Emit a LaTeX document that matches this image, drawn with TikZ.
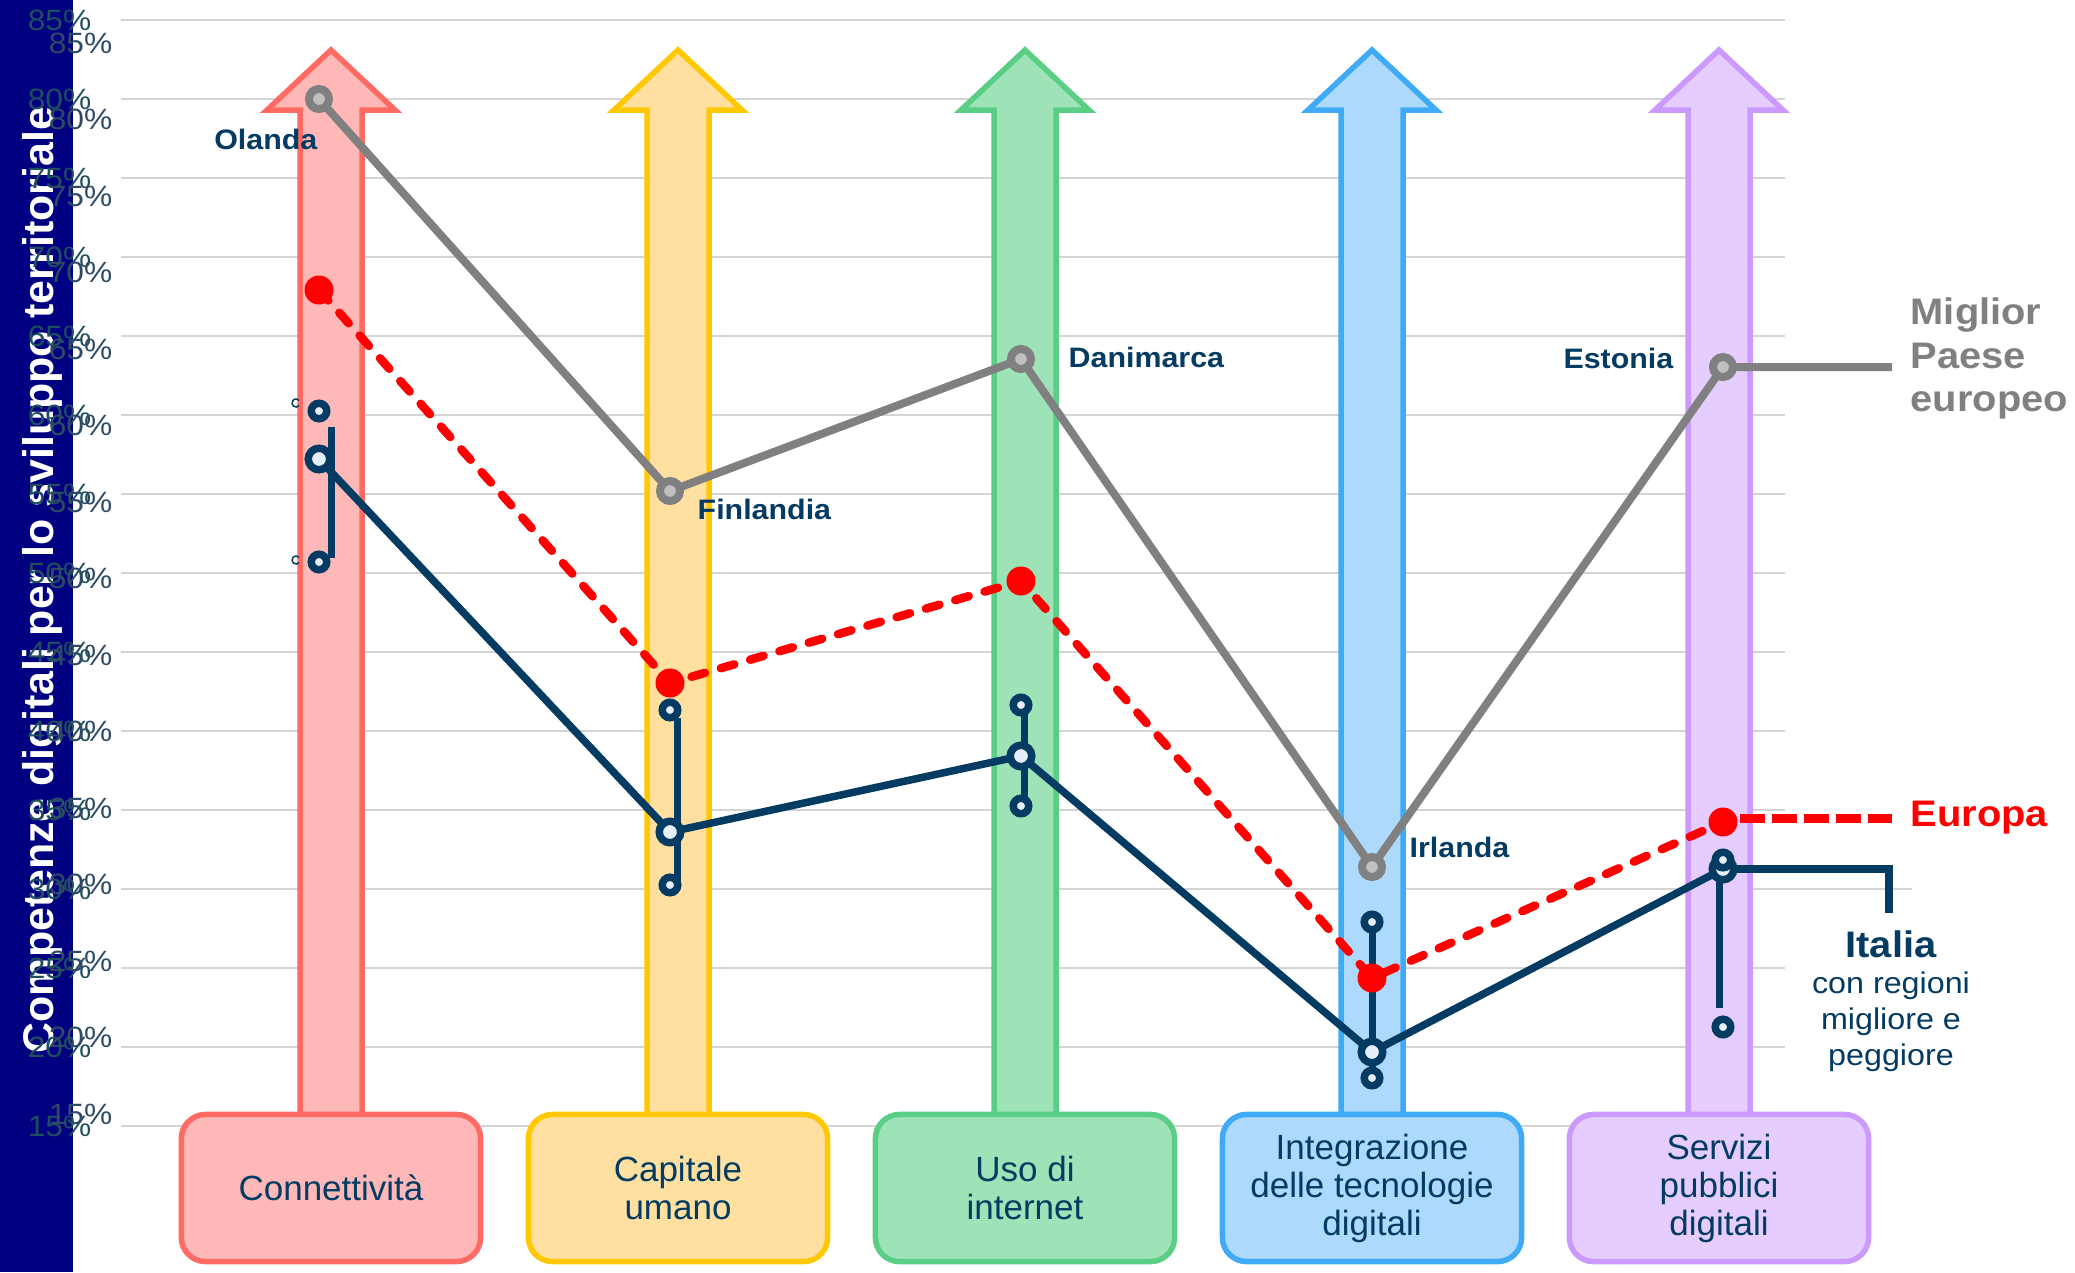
\documentclass[tikz,border=0pt]{standalone}
\usepackage{fontspec}
\setmainfont{Liberation Sans}
\newfontfamily\largo[FakeStretch=1.08]{Liberation Sans}
\usetikzlibrary{positioning}

\definecolor{fascia}{HTML}{000080}
\definecolor{blu}{HTML}{043B62}
\definecolor{grigliac}{HTML}{D4D4D4}
\definecolor{grigio}{HTML}{808080}
\definecolor{grigiochiaro}{HTML}{C0C0C0}
\definecolor{tickA}{HTML}{1D4F5E}
\definecolor{tickB}{HTML}{2E4A66}
\definecolor{chiaro}{HTML}{E6EEF8}
\definecolor{rossoB}{HTML}{FF6A63}\definecolor{rossoF}{HTML}{FFB8B8}
\definecolor{gialloB}{HTML}{FFC800}\definecolor{gialloF}{HTML}{FFE0A0}
\definecolor{verdeB}{HTML}{5BCE85}\definecolor{verdeF}{HTML}{9EE2B8}
\definecolor{azzurroB}{HTML}{3FAAF6}\definecolor{azzurroF}{HTML}{ADD9FD}
\definecolor{violaB}{HTML}{CC99FF}\definecolor{violaF}{HTML}{E6CDFF}

\tikzset{
  tacca/.style={anchor=east, inner sep=0pt, font=\largo\fontsize{8.35}{9}\selectfont},
  paese/.style={inner sep=0pt, text=blu, font=\largo\fontsize{8}{9}\selectfont\bfseries},
  legenda/.style={inner sep=0pt, font=\largo\fontsize{10.5}{12.4}\selectfont\bfseries},
  pilastro/.style={draw, line width=0.055cm, rounded corners=0.24cm, minimum width=2.99cm,
    minimum height=1.47cm, inner sep=0pt, align=center, text=blu, font=\fontsize{9.95}{10.8}\selectfont},
  freccia/.style={line width=0.055cm, line join=miter},
  linea/.style={line width=0.075cm, line join=round},
  regione/.style={blu, line width=0.075cm, fill=chiaro},
  barra/.style={blu, line width=0.07cm}
}

\begin{document}
\begin{tikzpicture}[x=0.01cm, y=-0.01cm]
\useasboundingbox (0,0) rectangle (2075,1272);
\fill[fascia] (0,0) rectangle (73,1272);
\node[rotate=90, anchor=base, inner sep=0pt, text=white, font=\fontsize{12.2}{13}\selectfont\bfseries] (titolo) at (53,580) {Competenze digitali per lo sviluppo territoriale};
\foreach \k in {0,...,14}{
  \pgfmathtruncatemacro\v{85-5*\k}
  \draw[grigliac, line width=0.015cm] (121,{20+79*\k}) -- (1785,{20+79*\k});
  \node[tacca, text=tickA] (tA\k) at (92,{20+79*\k}) {\v\%};
  \node[tacca, text=tickB] (tB\k) at (113,{43+76.5*\k}) {\v\%};
}
\draw[grigliac, line width=0.015cm] (1785,889) -- (1912,889);

\draw[freccia, draw=rossoB, fill=rossoF] (331,1114) ++(-31,0) -- ++(0,-1004) -- ++(-33,0) -- ++(64,-60) -- ++(64,60) -- ++(-33,0) -- ++(0,1004);
\draw[freccia, draw=gialloB, fill=gialloF] (678,1114) ++(-31,0) -- ++(0,-1004) -- ++(-33,0) -- ++(64,-60) -- ++(64,60) -- ++(-33,0) -- ++(0,1004);
\draw[freccia, draw=verdeB, fill=verdeF] (1025,1114) ++(-31,0) -- ++(0,-1004) -- ++(-33,0) -- ++(64,-60) -- ++(64,60) -- ++(-33,0) -- ++(0,1004);
\draw[freccia, draw=azzurroB, fill=azzurroF] (1372,1114) ++(-31,0) -- ++(0,-1004) -- ++(-33,0) -- ++(64,-60) -- ++(64,60) -- ++(-33,0) -- ++(0,1004);
\draw[freccia, draw=violaB, fill=violaF] (1719,1114) ++(-31,0) -- ++(0,-1004) -- ++(-33,0) -- ++(64,-60) -- ++(64,60) -- ++(-33,0) -- ++(0,1004);

\node[pilastro, draw=rossoB, fill=rossoF] (connettivita) at (331,1188) {Connettività};
\node[pilastro, draw=gialloB, fill=gialloF] (capitale) at (678,1188) {Capitale\\umano};
\node[pilastro, draw=verdeB, fill=verdeF] (internet) at (1025,1188) {Uso di\\internet};
\node[pilastro, draw=azzurroB, fill=azzurroF] (integrazione) at (1372,1188) {Integrazione\\delle tecnologie\\digitali};
\node[pilastro, draw=violaB, fill=violaF] (servizi) at (1719,1188) {Servizi\\pubblici\\digitali};

\coordinate (g1) at (319,99);  \coordinate (g2) at (670,491);  \coordinate (g3) at (1021,359);
\coordinate (g4) at (1372,867); \coordinate (g5) at (1723,367); \coordinate (migliorfine) at (1892,367);
\coordinate (e1) at (319,290);  \coordinate (e2) at (670,683);  \coordinate (e3) at (1021,581);
\coordinate (e4) at (1372,978); \coordinate (e5) at (1723,822); \coordinate (europafine) at (1892,818);
\coordinate (i1) at (319,459);  \coordinate (i2) at (670,832);  \coordinate (i3) at (1021,756);
\coordinate (i4) at (1372,1052); \coordinate (i5) at (1723,869); \coordinate (italiafine) at (1889,913);
\coordinate (b1) at (319,411);  \coordinate (w1) at (319,562);
\coordinate (b2) at (670,710);  \coordinate (w2) at (670,885);
\coordinate (b3) at (1021,705); \coordinate (w3) at (1021,806);
\coordinate (b4) at (1372,922); \coordinate (w4) at (1372,1078);
\coordinate (b5) at (1723,860); \coordinate (w5) at (1723,1027);

\draw[linea, grigio, line width=0.08cm] (g1) -- (g2) -- (g3) -- (g4) -- (g5) -- (migliorfine);
\foreach \p in {g1,g2,g3,g4,g5} \draw[grigio, line width=0.08cm, fill=grigiochiaro] (\p) circle (10);

\draw[linea, blu] (i1) -- (i2) -- (i3) -- (i4) -- (i5);
\draw[blu, line width=0.075cm] (i5) -| (italiafine);
\draw[barra] (331,427) -- (331,558);
\draw[barra] (677,718) -- (677,885);
\draw[barra] (1024,705) -- (1024,806);
\draw[barra] (1372,922) -- (1372,1078);
\draw[barra] (1719,869) -- (1719,1008);
\foreach \p in {i1,i2,i3,i4,i5} \draw[regione] (\p) circle (10.75);
\foreach \p in {b1,w1,b2,w2,b3,w3,b4,w4,b5,w5} \draw[regione] (\p) circle (7.75);
\draw[blu, line width=0.015cm] (299.1,405.6) arc (40:320:4);
\draw[blu, line width=0.015cm] (299.1,562.6) arc (40:320:4);

\draw[linea, red, line width=0.085cm, line cap=round, dash pattern=on 0.14cm off 0.165cm] (e1) -- (e2) -- (e3) -- (e4) -- (e5);
\draw[red, line width=0.09cm, dash pattern=on 0.25cm off 0.07cm] (1740,818) -- (europafine);
\foreach \p in {e1,e2,e3,e4,e5} \fill[red] (\p) circle (14.5);

\node[paese, anchor=base east] (olanda) at (318,149) {Olanda};
\node[paese, anchor=base west] (finlandia) at (697,519) {Finlandia};
\node[paese, anchor=base west] (danimarca) at (1068,367) {Danimarca};
\node[paese, anchor=base west] (irlanda) at (1409,857) {Irlanda};
\node[paese, anchor=base east] (estonia) at (1674,368) {Estonia};

\node[legenda, text=grigio, align=left, anchor=north west] (migliore) at (1910,297) {Miglior\\Paese\\europeo};
\node[legenda, text=red, anchor=base west] (europa) at (1910,826) {Europa};
\node[legenda, text=blu, anchor=base] (italia) at (1891,957) {Italia};
\node[below=0.13cm of italia, inner sep=0pt, text=blu, align=center, font=\largo\fontsize{8.5}{10.25}\selectfont] (regioni) {con regioni\\migliore e\\peggiore};
\end{tikzpicture}
\end{document}
